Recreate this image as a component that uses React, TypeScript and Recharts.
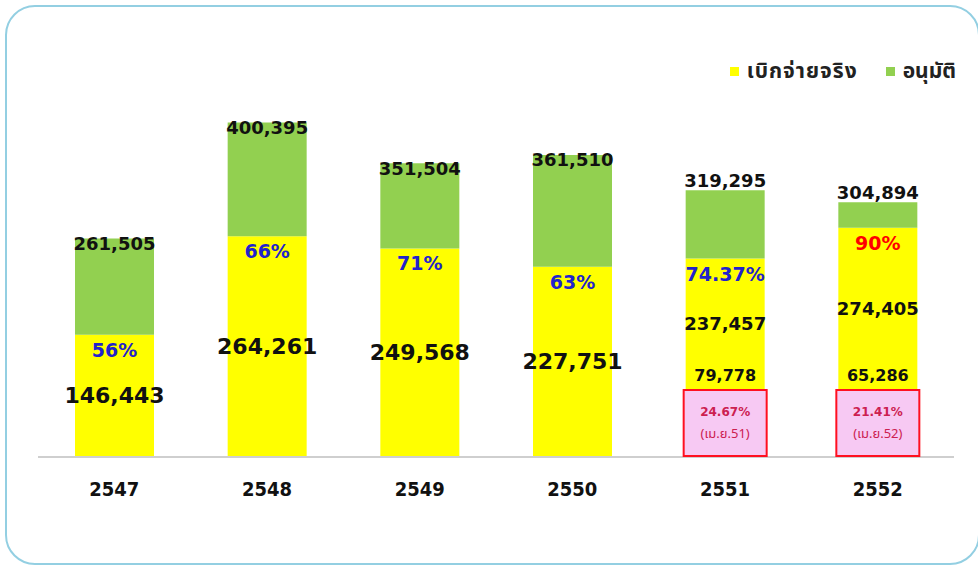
import { BarChart, Bar, XAxis, YAxis, Legend, LabelList } from 'recharts';

const years = ['2547', '2548', '2549', '2550', '2551', '2552'];
const approved = [261505, 400395, 351504, 361510, 319295, 304894];
const actual = [146443, 264261, 249568, 227751, 237457, 274405];
const pctLabels = ['56%', '66%', '71%', '63%', '74.37%', '90%'];
const aprilActual: (number | null)[] = [null, null, null, null, 79778, 65286];
const aprilPct = ['', '', '', '', '24.67%', '21.41%'];
const aprilMonth = ['', '', '', '', '(เม.ย.51)', '(เม.ย.52)'];

const data = years.map((year, i) => ({
  year,
  actual: actual[i],
  remain: approved[i] - actual[i],
}));

const NUM_FONT = "'DejaVu Sans', Verdana, sans-serif";
const THAI_FONT = "Tahoma, 'Noto Sans Thai', 'Leelawadee UI', 'DejaVu Sans', sans-serif";
const fmt = (v: number) => v.toLocaleString('en-US');

// everything drawn from the green (top) segment so it sits above both bars
function renderLabels(props: any) {
  const x = Number(props.x);
  const y = Number(props.y);
  const width = Number(props.width);
  const height = Number(props.height);
  const i = props.index as number;
  const k = height / (approved[i] - actual[i]);
  const yTop = y + height;
  const base = yTop + actual[i] * k;
  const cx = x + width / 2;
  const april = aprilActual[i];
  const ratio = actual[i] / approved[i];

  const actualY = april == null ? (yTop + base) / 2 : (yTop + 14 + base - 82) / 2;
  // the last two years carry their total just above the bar
  const totalY = april == null ? y + 5 : y - 10;

  return (
    <g fontFamily={NUM_FONT} fontWeight="bold" textAnchor="middle">
      <text x={cx} y={totalY} dominantBaseline="central" fontSize={18} fill="#111">
        {fmt(approved[i])}
      </text>
      <text
        x={cx}
        y={yTop + 15}
        dominantBaseline="central"
        fontSize={19}
        fill={ratio >= 0.9 ? '#ff0000' : '#2222cc'}
      >
        {pctLabels[i]}
      </text>
      <text
        x={cx}
        y={actualY}
        dominantBaseline="central"
        fontSize={april == null ? 22 : 18}
        fill="#111"
      >
        {fmt(actual[i])}
      </text>
      {april != null && (
        <g>
          <text x={cx} y={base - 82} dominantBaseline="central" fontSize={16} fill="#111">
            {fmt(april)}
          </text>
          <rect
            x={x - 2}
            y={base - 67}
            width={width + 4}
            height={66}
            fill="#f7c9f3"
            stroke="#ff1020"
            strokeWidth={2}
          />
          <text x={cx} y={base - 45} dominantBaseline="central" fontSize={12} fill="#cc2050">
            {aprilPct[i]}
          </text>
          <text
            x={cx}
            y={base - 23}
            dominantBaseline="central"
            fontSize={13}
            fontWeight="normal"
            fontFamily={THAI_FONT}
            fill="#cc2050"
          >
            {aprilMonth[i]}
          </text>
        </g>
      )}
    </g>
  );
}

const YearTick = (props: any) => {
  const { x, y, payload } = props;
  return (
    <text
      x={x}
      y={y}
      dy={31}
      textAnchor="middle"
      fontFamily="'DejaVu Sans Condensed', 'DejaVu Sans', sans-serif"
      fontWeight="bold"
      fontSize={20}
      fill="#111"
    >
      {payload.value}
    </text>
  );
};

const legendItems = [
  { label: 'เบิกจ่ายจริง', color: '#ffff00' },
  { label: 'อนุมัติ', color: '#92d050' },
];

const LegendContent = () => (
  <div style={{ display: 'flex', alignItems: 'center', fontFamily: THAI_FONT, fontWeight: 'bold', fontSize: 21, color: '#222' }}>
    {legendItems.map((it, i) => (
      <div key={it.label} style={{ display: 'flex', alignItems: 'center', marginLeft: i === 0 ? 0 : 28 }}>
        <span style={{ width: 9, height: 9, background: it.color, display: 'inline-block', marginRight: 8 }} />
        <span style={{ letterSpacing: i === 0 ? 1 : 0 }}>{it.label}</span>
      </div>
    ))}
  </div>
);

export default function App() {
  return (
    <div style={{ position: 'absolute', left: 0, top: 0, width: 978, height: 565, background: '#fff', overflow: 'hidden' }}>
      <div
        style={{
          position: 'absolute',
          left: 5,
          top: 5,
          width: 975,
          height: 560,
          border: '2px solid #93cfe2',
          borderRadius: 30,
          boxSizing: 'border-box',
        }}
      />
      <div style={{ position: 'absolute', left: 0, top: 0 }}>
        <BarChart
          width={978}
          height={565}
          data={data}
          margin={{ top: 50, right: 24, left: 38, bottom: 68 }}
          barSize={79}
        >
          <XAxis
            dataKey="year"
            height={40}
            axisLine={{ stroke: '#cfcfcf', strokeWidth: 2 }}
            tickLine={false}
            tick={<YearTick />}
            interval={0}
          />
          <YAxis hide domain={[0, 450000]} />
          <Legend
            verticalAlign="top"
            align="right"
            content={<LegendContent />}
            wrapperStyle={{ top: 56, right: 22, left: 'auto', width: 'auto' }}
          />
          <Bar dataKey="actual" stackId="a" fill="#ffff00" isAnimationActive={false} />
          <Bar dataKey="remain" stackId="a" fill="#92d050" isAnimationActive={false}>
            <LabelList dataKey="remain" content={renderLabels} />
          </Bar>
        </BarChart>
      </div>
    </div>
  );
}
